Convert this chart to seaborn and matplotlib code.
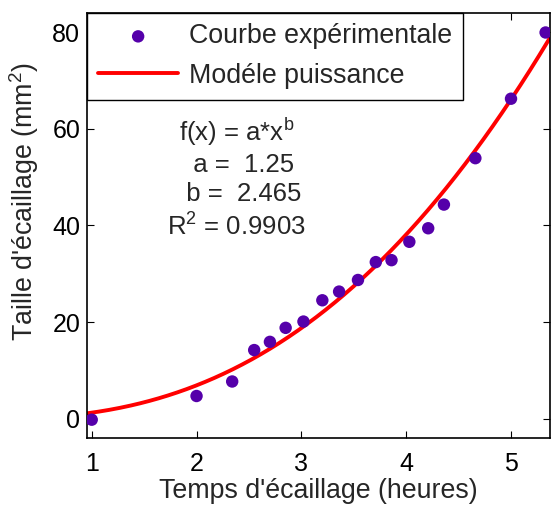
import numpy as np
import pandas as pd
import matplotlib
matplotlib.use("Agg")
import matplotlib.pyplot as plt
import seaborn as sns

temps = [1.00, 2.00, 2.34, 2.55, 2.70, 2.85, 3.02, 3.20, 3.36, 3.54, 3.71, 3.86,
         4.03, 4.21, 4.36, 4.66, 5.00, 5.33]
taille = [-0.2, 4.7, 7.7, 14.2, 15.9, 18.8, 20.1, 24.5, 26.3, 28.7, 32.4, 32.8,
          36.6, 39.4, 44.3, 53.9, 66.2, 79.9]

# Power model parameters shown on the chart
a_param = 1.25
b_param = 2.465
r2 = 0.9903

x_ticks = [1, 2, 3, 4, 5]
y_ticks = [0, 20, 40, 60, 80]

sns.set_style("ticks")
plt.rcParams['font.family'] = ['Liberation Sans', 'DejaVu Sans']
plt.rcParams['mathtext.fontset'] = 'custom'
plt.rcParams['mathtext.rm'] = 'Liberation Sans'

fig = plt.figure(figsize=(5.52, 5.07), dpi=100)
ax = fig.add_axes([0.158, 0.136, 0.838, 0.839])

df_pts = pd.DataFrame({"t": temps, "s": taille})
xm = np.linspace(0.96, 5.37, 300)
df_mod = pd.DataFrame({"t": xm, "s": a_param * xm ** b_param})

sns.scatterplot(data=df_pts, x="t", y="s", ax=ax, color="#5500aa", s=80,
                edgecolor="none", label="Courbe expérimentale", zorder=3)
sns.lineplot(data=df_mod, x="t", y="s", ax=ax, color="#ff0000", lw=2.8,
             label="Modéle puissance", zorder=2)

ax.set_xlim(0.957, 5.37)
ax.set_ylim(-4, 84)
ax.set_xticks(x_ticks)
ax.set_yticks(y_ticks)
ax.tick_params(direction="in", length=5, width=0.8, labelsize=18, top=True, right=True,
               colors="black")
ax.tick_params(axis="x", labeltop=False, pad=10)
ax.tick_params(axis="y", pad=5)
for sp in ax.spines.values():
    sp.set_linewidth(1.2)
    sp.set_color("black")
    sp.set_visible(True)

ax.set_xlabel("Temps d'écaillage (heures)", fontsize=19.3, labelpad=1.5)
ax.set_ylabel("Taille d'écaillage (mm$^2$)", fontsize=19.3)
ax.yaxis.set_label_coords(-0.099, 0.555)

leg = ax.legend(loc="upper left", fontsize=19.3, frameon=True, fancybox=False,
                edgecolor="black", framealpha=1, borderaxespad=0, handlelength=3.0,
                borderpad=0.4, labelspacing=0.5, handletextpad=0.4)
leg.get_frame().set_linewidth(1.0)

txt = ("f(x) = a*x$^{\\mathregular{b}}$\n"
       "  a =  %.2f\n"
       "  b =  %.3f\n"
       "R$^{\\mathregular{2}}$ = %.4f" % (a_param, b_param, r2))
ax.text(2.38, 62.7, txt, fontsize=18.5, ha="center", va="top", linespacing=1.25)

fig.savefig("out.png", dpi=100)
